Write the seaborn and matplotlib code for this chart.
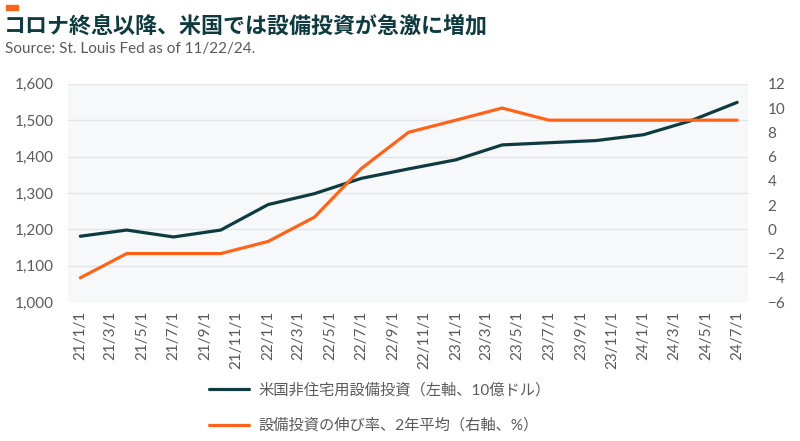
import pandas as pd
import matplotlib
matplotlib.use("Agg")
import matplotlib.pyplot as plt
import matplotlib.dates as mdates
from matplotlib.patches import Rectangle
import seaborn as sns

# データ(四半期)
dates = ["2021-01-01", "2021-04-01", "2021-07-01", "2021-10-01",
         "2022-01-01", "2022-04-01", "2022-07-01", "2022-10-01",
         "2023-01-01", "2023-04-01", "2023-07-01", "2023-10-01",
         "2024-01-01", "2024-04-01", "2024-07-01"]
invest = [1181, 1198, 1179, 1198, 1268, 1298, 1340, 1366, 1391,
          1432, 1438, 1444, 1460, 1498, 1549]
growth = [-4, -2, -2, -2, -1, 1, 5, 8, 9, 10, 9, 9, 9, 9, 9]

label_invest = "米国非住宅用設備投資（左軸、10億ドル）"
label_growth = "設備投資の伸び率、2年平均（右軸、%）"
title = "コロナ終息以降、米国では設備投資が急激に増加"
source = "Source: St. Louis Fed as of 11/22/24."

dark = "#0e3b40"
orange = "#ff6319"
grey_txt = "#5a5a5a"

sns.set_theme(style="white")
plt.rcParams["font.family"] = ["Lato", "Noto Sans CJK JP", "DejaVu Sans"]

df = pd.DataFrame({"date": pd.to_datetime(dates), "invest": invest, "growth": growth})

fig = plt.figure(figsize=(8, 4.41), dpi=100)
ax = fig.add_axes([0.085, 0.315, 0.85, 0.495])
ax.set_facecolor("#f7f8fa")

sns.lineplot(data=df, x="date", y="invest", ax=ax, color=dark, linewidth=2.3)
ax2 = ax.twinx()
sns.lineplot(data=df, x="date", y="growth", ax=ax2, color=orange, linewidth=2.3)

ax.set_ylim(1000, 1600)
ax.set_yticks(range(1000, 1601, 100))
ax.set_yticklabels([f"{v:,}" for v in range(1000, 1601, 100)])
ax2.set_ylim(-6, 12)
ax2.set_yticks(range(-6, 13, 2))

ax.set_xlim(pd.Timestamp("2020-12-08"), pd.Timestamp("2024-07-22"))
ax.xaxis.set_major_locator(mdates.MonthLocator(bymonth=[1, 3, 5, 7, 9, 11]))
ax.xaxis.set_major_formatter(plt.FuncFormatter(
    lambda v, p: (lambda d: f"{d.year % 100}/{d.month}/1")(mdates.num2date(v))))
plt.setp(ax.get_xticklabels(), rotation=90)

ax.grid(axis="y", color="#e2e4e7", linewidth=1)
ax.set_axisbelow(True)
for a in (ax, ax2):
    a.set_xlabel("")
    a.set_ylabel("")
    for s in a.spines.values():
        s.set_visible(False)
    a.tick_params(length=0, labelsize=11, colors=grey_txt)
ax.tick_params(axis="y", pad=10)
ax.tick_params(axis="x", pad=6)
ax2.tick_params(axis="y", pad=14)
ax2.set_facecolor("none")

h1 = ax.get_lines()[0]
h2 = ax2.get_lines()[0]
fig.legend([h1, h2], [label_invest, label_growth], loc="upper left",
           bbox_to_anchor=(0.254, 0.145), frameon=False, fontsize=11,
           labelcolor=grey_txt, handlelength=2.6, handletextpad=0.6,
           labelspacing=1.35, borderaxespad=0)
for ln in fig.legends[0].get_lines():
    ln.set_linewidth(2.3)

fig.patches.append(Rectangle((0.007, 0.978), 0.015, 0.01, transform=fig.transFigure,
                             color=orange, figure=fig))
fig.text(0.005, 0.94, title, fontsize=15.8, fontweight="bold", color="#0f3b40",
         va="center", ha="left", family=["Noto Sans CJK JP"])
fig.text(0.006, 0.89, source, fontsize=11, color=grey_txt, va="center", ha="left")

fig.savefig("out.png", dpi=100)
